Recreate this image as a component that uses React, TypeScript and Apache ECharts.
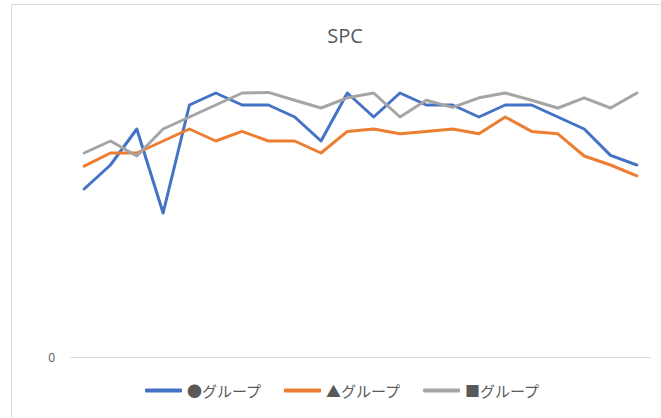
import React, { useEffect, useRef } from "react";
import * as echarts from "echarts";

const categories = Array.from({ length: 22 }, (_, i) => String(i + 1));
const circleGroup = [14, 16, 19, 12, 21, 22, 21, 21, 20, 18, 22, 20, 22, 21, 21, 20, 21, 21, 20, 19, 16.8, 16];
const triangleGroup = [15.9, 17, 17, 18, 19, 18, 18.8, 18, 18, 17, 18.8, 19, 18.6, 18.8, 19, 18.6, 20, 18.8, 18.6, 16.75, 16, 15.1];
const squareGroup = [17, 18, 16.75, 19, 20, 21, 22, 22.05, 21.4, 20.75, 21.6, 22, 20, 21.4, 20.8, 21.6, 22, 21.4, 20.75, 21.6, 20.75, 22];
const seriesNames = ["●グループ", "▲グループ", "■グループ"];
const yMax = 25;

export default function App() {
  const ref = useRef<HTMLDivElement>(null);
  useEffect(() => {
    const chart = echarts.init(ref.current!, null, { renderer: "svg" });
    const font = "'Noto Sans CJK JP', 'Noto Sans', sans-serif";
    const mk = (name: string, data: number[], color: string) => ({
      name,
      type: "line",
      data,
      symbol: "none",
      showSymbol: false,
      lineStyle: { color, width: 3, cap: "round", join: "round" },
      itemStyle: { color },
    });
    chart.setOption({
      animation: false,
      textStyle: { fontFamily: font },
      graphic: [
        {
          type: "rect",
          shape: { x: 11.5, y: 4.5, width: 700, height: 500 },
          style: { fill: "none", stroke: "#d9d9d9", lineWidth: 1 },
          silent: true,
        },
      ],
      title: {
        text: "SPC",
        left: 340,
        top: 20,
        textAlign: "center",
        textStyle: { color: "#595959", fontSize: 20, fontWeight: "normal", fontFamily: "'Open Sans', 'Noto Sans', sans-serif" },
      },
      legend: {
        bottom: 15,
        left: 140,
        itemGap: 22,
        itemWidth: 37,
        itemHeight: 4,
        icon: "roundRect",
        textStyle: { color: "#595959", fontSize: 15, width: 75, fontFamily: font },
        data: seriesNames,
      },
      grid: { left: 71, right: 11, top: 57, bottom: 61 },
      xAxis: {
        type: "category",
        data: categories,
        boundaryGap: true,
        axisLine: { lineStyle: { color: "#d9d9d9", width: 1 } },
        axisTick: { show: false },
        axisLabel: { show: false },
      },
      yAxis: {
        type: "value",
        min: 0,
        max: yMax,
        interval: 5,
        splitLine: { show: false },
        axisLine: { show: false },
        axisTick: { show: false },
        axisLabel: {
          color: "#595959",
          fontSize: 12,
          margin: 16,
          fontFamily: "'Open Sans', 'Noto Sans', sans-serif",
          formatter: (v: number) => (v === 0 ? "0" : ""),
        },
      },
      series: [
        mk(seriesNames[0], circleGroup, "#4472C4"),
        mk(seriesNames[1], triangleGroup, "#ED7D31"),
        mk(seriesNames[2], squareGroup, "#A5A5A5"),
      ],
    });
    return () => chart.dispose();
  }, []);
  return <div ref={ref} style={{ width: 661, height: 418, position: "absolute", left: 0, top: 0 }} />;
}
